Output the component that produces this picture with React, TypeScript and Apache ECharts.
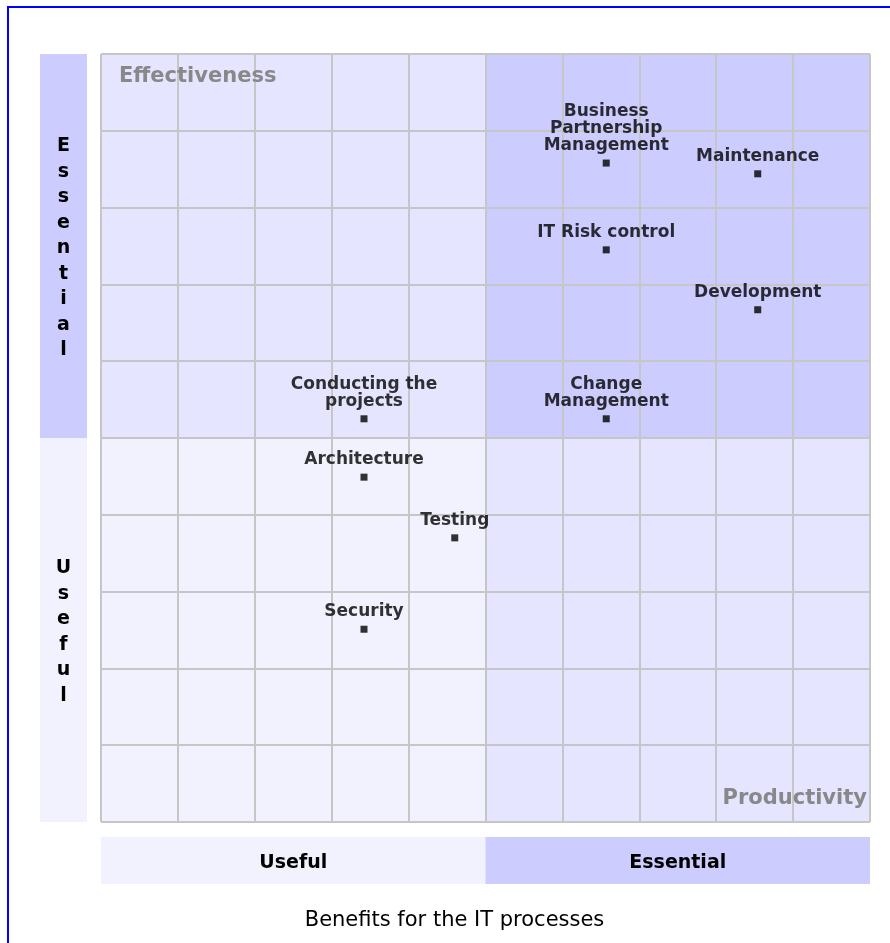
import React, { useEffect, useRef } from "react";
import * as echarts from "echarts";

// ---- data ----
const processNames = [
  "Business\nPartnership\nManagement",
  "Maintenance",
  "IT Risk control",
  "Development",
  "Change\nManagement",
  "Conducting the\nprojects",
  "Architecture",
  "Testing",
  "Security",
];
const productivity = [65.7, 85.4, 65.7, 85.4, 65.7, 34.2, 34.2, 46.0, 34.2];
const effectiveness = [85.8, 84.4, 74.5, 66.7, 52.5, 52.5, 44.9, 37.0, 25.1];
const bandLabels = ["Useful", "Essential"];
const bandBreaks = [0, 50, 100];
const axisMin = 0;
const axisMax = 100;
const axisInterval = 10;
const chartTitle = "Benefits for the IT processes";
const yAxisTitle = "Effectiveness";
const xAxisTitle = "Productivity";

const FONT = "'DejaVu Sans', Verdana, sans-serif";
const C_HIGH = "#CCCCFF";
const C_MID = "#E5E5FF";
const C_LOW = "#F2F2FF";

export default function App() {
  const ref = useRef<HTMLDivElement>(null);
  useEffect(() => {
    if (!ref.current) return;
    const chart = echarts.init(ref.current, null, { renderer: "svg" });

    const quadrants = [
      [
        { xAxis: bandBreaks[0], yAxis: bandBreaks[0], itemStyle: { color: C_LOW } },
        { xAxis: bandBreaks[1], yAxis: bandBreaks[1] },
      ],
      [
        { xAxis: bandBreaks[1], yAxis: bandBreaks[0], itemStyle: { color: C_MID } },
        { xAxis: bandBreaks[2], yAxis: bandBreaks[1] },
      ],
      [
        { xAxis: bandBreaks[0], yAxis: bandBreaks[1], itemStyle: { color: C_MID } },
        { xAxis: bandBreaks[1], yAxis: bandBreaks[2] },
      ],
      [
        { xAxis: bandBreaks[1], yAxis: bandBreaks[1], itemStyle: { color: C_HIGH } },
        { xAxis: bandBreaks[2], yAxis: bandBreaks[2] },
      ],
    ];

    const bandLabelStyle = {
      show: true,
      position: "inside",
      color: "#000",
      fontFamily: FONT,
      fontWeight: "bold",
      fontSize: 19,
    };

    const hiddenAxis = (gridIndex: number, min: number, max: number) => ({
      gridIndex,
      type: "value",
      min,
      max,
      axisLine: { show: false },
      axisTick: { show: false },
      axisLabel: { show: false },
      splitLine: { show: false },
    });

    const mainAxis = {
      gridIndex: 0,
      type: "value",
      z: 3,
      min: axisMin,
      max: axisMax,
      interval: axisInterval,
      axisLine: { show: false },
      axisTick: { show: false },
      axisLabel: { show: false },
      splitLine: { show: true, lineStyle: { color: "#C6C6C6", width: 2 } },
    };

    chart.setOption({
      animation: false,
      title: {
        text: chartTitle,
        left: "center",
        top: 895,
        textStyle: { fontFamily: FONT, fontWeight: "normal", fontSize: 21, color: "#000" },
      },
      grid: [
        { left: 92, top: 46, width: 769, height: 768 },
        { left: 31, top: 46, width: 47, height: 768 },
        { left: 92, top: 829, width: 769, height: 47 },
      ],
      xAxis: [mainAxis, hiddenAxis(1, 0, 1), hiddenAxis(2, axisMin, axisMax)],
      yAxis: [{ ...mainAxis }, hiddenAxis(1, axisMin, axisMax), hiddenAxis(2, 0, 1)],
      graphic: [
        {
          type: "text",
          x: 110,
          y: 67,
          z: 10,
          style: {
            text: yAxisTitle,
            fill: "#888888",
            fontFamily: FONT,
            fontWeight: "bold",
            fontSize: 21,
            textAlign: "left",
            textVerticalAlign: "middle",
          },
        },
        {
          type: "text",
          x: 858,
          y: 789,
          z: 10,
          style: {
            text: xAxisTitle,
            fill: "#888888",
            fontFamily: FONT,
            fontWeight: "bold",
            fontSize: 21,
            textAlign: "right",
            textVerticalAlign: "middle",
          },
        },
      ],
      series: [
        {
          type: "scatter",
          xAxisIndex: 0,
          yAxisIndex: 0,
          z: -1,
          data: [],
          silent: true,
          markArea: { silent: true, z: -1, label: { show: false }, data: quadrants },
        },
        {
          type: "scatter",
          xAxisIndex: 1,
          yAxisIndex: 1,
          data: [],
          silent: true,
          markArea: {
            silent: true,
            label: {
              ...bandLabelStyle,
              lineHeight: 25.5,
              formatter: (p: any) => String(p.name).split("").join("\n"),
            },
            data: [
              [
                { xAxis: 0, yAxis: bandBreaks[0], name: bandLabels[0], itemStyle: { color: C_LOW } },
                { xAxis: 1, yAxis: bandBreaks[1] },
              ],
              [
                { xAxis: 0, yAxis: bandBreaks[1], name: bandLabels[1], itemStyle: { color: C_HIGH } },
                { xAxis: 1, yAxis: bandBreaks[2] },
              ],
            ],
          },
        },
        {
          type: "scatter",
          xAxisIndex: 2,
          yAxisIndex: 2,
          data: [],
          silent: true,
          markArea: {
            silent: true,
            label: { ...bandLabelStyle },
            data: [
              [
                { xAxis: bandBreaks[0], yAxis: 0, name: bandLabels[0], itemStyle: { color: C_LOW } },
                { xAxis: bandBreaks[1], yAxis: 1 },
              ],
              [
                { xAxis: bandBreaks[1], yAxis: 0, name: bandLabels[1], itemStyle: { color: C_HIGH } },
                { xAxis: bandBreaks[2], yAxis: 1 },
              ],
            ],
          },
        },
        {
          type: "scatter",
          xAxisIndex: 0,
          yAxisIndex: 0,
          z: 5,
          symbol: "rect",
          symbolSize: 7,
          itemStyle: { color: "#000" },
          emphasis: { disabled: true },
          label: {
            show: true,
            position: "top",
            distance: 7,
            color: "#000",
            fontFamily: FONT,
            fontWeight: "bold",
            fontSize: 17,
            lineHeight: 17,
            align: "center",
            formatter: (p: any) => p.name,
          },
          data: processNames.map((n, i) => ({ name: n, value: [productivity[i], effectiveness[i]] })),
        },
      ],
    });
    return () => chart.dispose();
  }, []);

  return (
    <div
      style={{
        position: "fixed",
        left: 7,
        top: 6,
        width: 881,
        height: 935,
        overflow: "hidden",
        borderLeft: "2px solid #0000FF",
        borderTop: "2px solid #0000FF",
      }}
    >
      <div ref={ref} style={{ width: 891, height: 960 }} />
    </div>
  );
}
